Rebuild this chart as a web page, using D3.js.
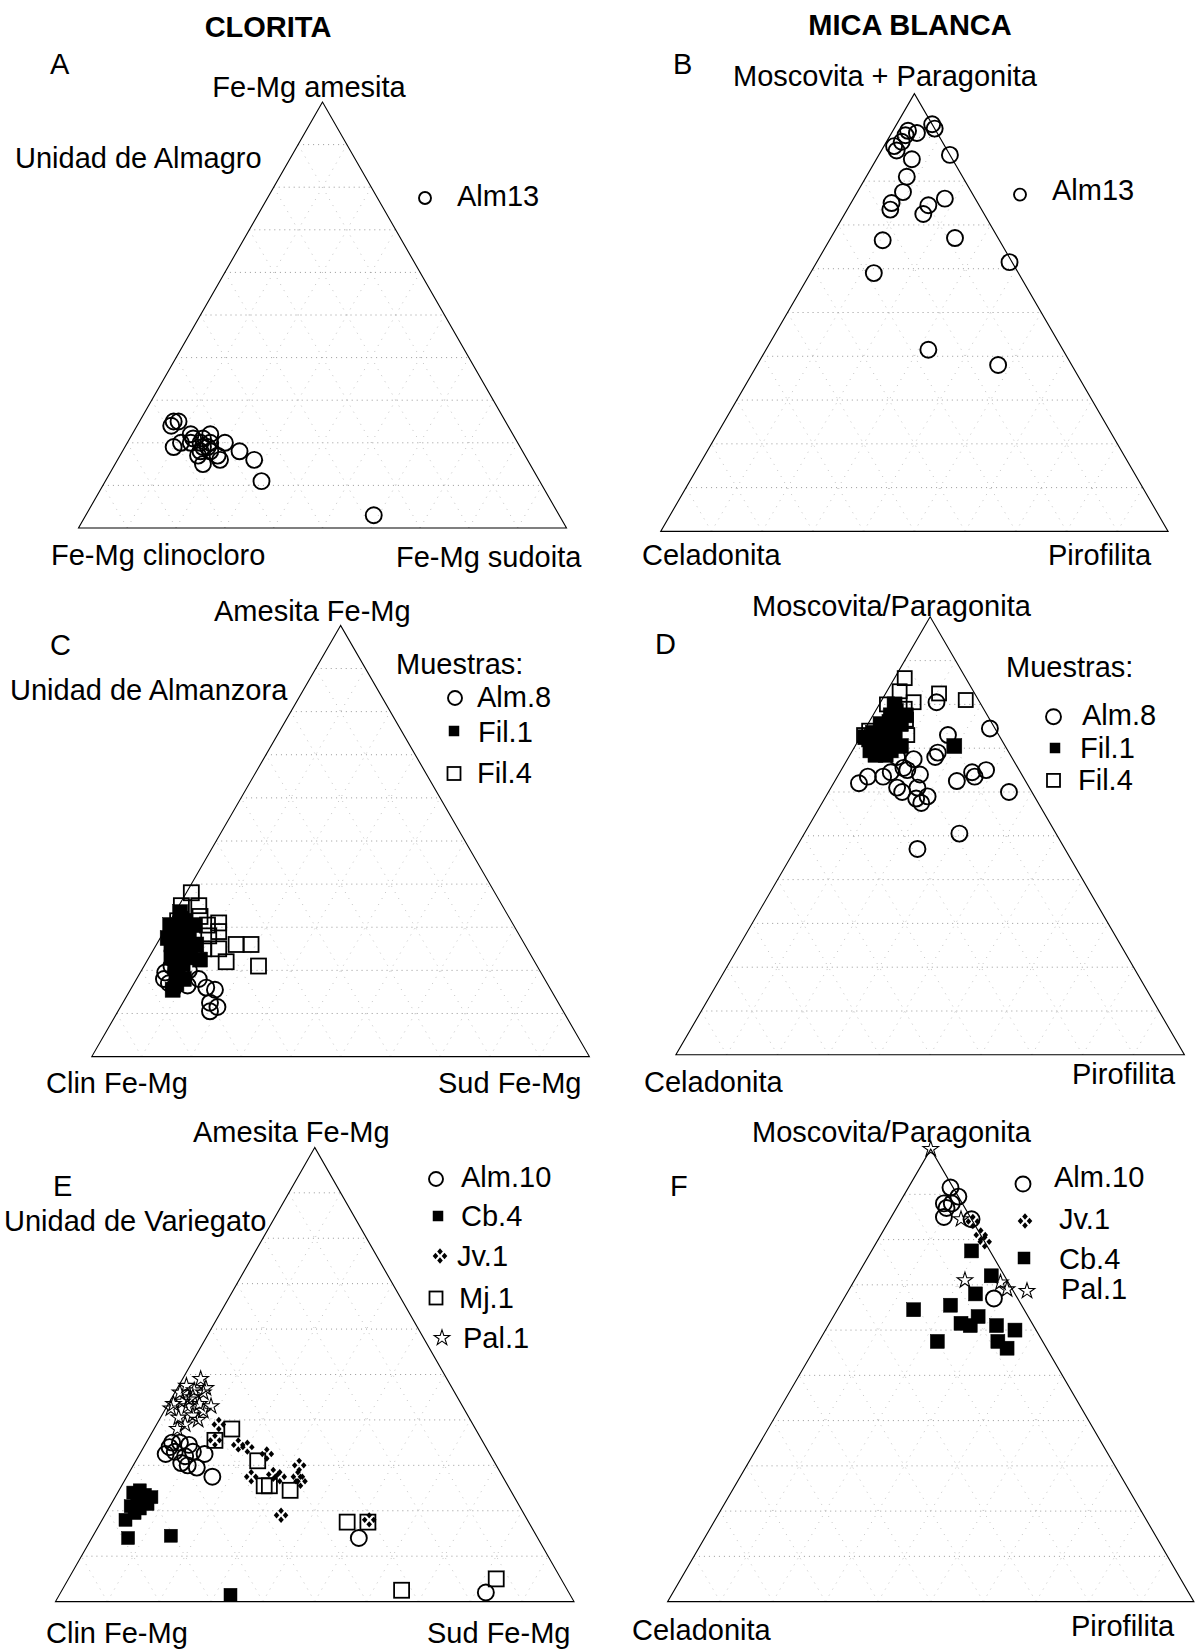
<!DOCTYPE html>
<html>
<head>
<meta charset="utf-8">
<script src="https://cdn.jsdelivr.net/npm/d3@7"></script>
<style>
  body { margin: 0; background: #fff; }
  svg text { font-family: "Liberation Sans", Arial, Helvetica, sans-serif; fill: #000; }
</style>
</head>
<body>
<svg id="chart" width="1195" height="1650"></svg>
<script>
// ternary data, every point is [top, left, right] in percent
// chlorite: [amesita, clinocloro, sudoita]   mica: [moscovita/paragonita, celadonita, pirofilita]

// A - Unidad de Almagro, clorita
const almagroChlAlm13 = [
  [25,68,7],[24,69,7],[25,67,8],[19,71,10],[20,69,11],[22,66,12],[21,66,13],[20,67,13],
  [22,62,16],[20,65,15],[19,65,16],[17,67,16],[15,67,18],[18,64,18],[16,63,21],[17,63,20],
  [20,60,20],[19,64,17],[21,64,15],[18,66,16],[20,63,17],[18,58,24],[16,56,28],[11,57,32],[3,38,59]
];

// B - Unidad de Almagro, mica blanca
const almagroMicaAlm13 = [
  [93,0,7],[92,0,8],[91.5,5.5,3],[91,4,5],[90.5,6.5,3],[89,8,3],[88,10,2],[87,10,3],
  [86,0,14],[85,8,7],[81,11,8],[77.5,13.5,9],[76,6,18],[75,17,8],[73.5,18,8.5],[74.5,10,15.5],
  [72.5,12,15.5],[66.5,23,10.5],[67,8.5,24.5],[59,28.5,12.5],[61.5,0.5,38],[41.5,26.5,32],[38,14.5,47.5]
];

// C - Unidad de Almanzora, clorita
const almanzoraChlAlm8 = [
  [19.5,75.5,5],[21,73.5,5.5],[18,76.5,5.5],[20,73,7],[18.5,72.5,9],[16,75.5,8.5],[16.5,72.5,11],
  [18,69.5,12.5],[16,69,15],[15.5,67.5,17],[12.5,70,17.5],[11.5,69,19.5],[10.5,71,18.5],
  [21.5,71.5,7],[17,76,7],[20,70.5,9.5]
];
const almanzoraChlFil1 = [
  [30.5,69,0.5],[28,69.5,2.5],[26,71,3],[29.5,67.5,3],[26.5,68,5.5],[24,71,5],[28,66.5,5.5],
  [31.5,65.5,3],[26,66,8],[33.5,65.5,1],[23,72.5,4.5],[23,69,8],[30.5,64,5.5],[27.5,71,1.5],
  [24.5,68,7.5],[20.5,73,6.5],[18,72.5,9.5],[15.5,76,8.5],[22.5,67,10.5],
  [25,70,5],[27,69,4],[29,68.5,2.5],[21.5,71,7.5],[19.5,73,7.5],[17,74.5,8.5],[32,66,2]
];
const almanzoraChlFil4 = [
  [38,61,1],[35,64.5,0.5],[32.5,62,5.5],[31,59,10],[29,60,11],[28,62.5,9.5],[25,65,10],
  [25,62,13],[26,58,16],[26,55,19],[22,62,16],[21,56,23],[31.5,67,1.5],[28,69.5,2.5],
  [24,67.5,8.5],[29.5,66.5,4],[35,61,4],[30.5,61.5,8]
];

// D - Unidad de Almanzora, mica blanca
const almanzoraMicaAlm8 = [
  [80.5,8.5,11],[74.5,1,24.5],[73,10,17],[69,14,17],[68,15,17],[68,22.5,9.5],[67.5,19.5,13],
  [65.5,22.5,12],[64.5,25.5,10],[63.5,27.5,9],[63.5,30.5,6],[62,33,5],[64,20,16],[61,26,13],
  [60,25.5,14.5],[61,22,17],[59,21,20],[58.5,23.5,18],[57.5,23,19.5],[62.5,13.5,24],
  [64.5,9.5,26],[63.5,9.5,27],[65,6.5,28.5],[60,4.5,35.5],[50.5,19,30.5],[47,29,24],[65,22,13]
];
const almanzoraMicaFil1 = [
  [72,26,2],[70.5,24.5,5],[68.5,26.5,5],[69.5,23,7.5],[73,22.5,4.5],[72,21,7],[75.5,18,6.5],
  [75.5,22,2.5],[77.5,19,3.5],[80,17,3],[77.5,16,6.5],[69.5,27,3.5],[72.5,26.5,1],
  [68.5,24.5,7],[70.5,20.5,9],[70.5,10,19.5],
  [74,22,4],[71,23.5,5.5],[73.5,24.5,2],[76,20,4],[69,25,6],[71,25.5,3.5],[74,20,6],[78.5,17.5,4]
];
const almanzoraMicaFil4 = [
  [86,12,2],[83,14.5,2.5],[80.5,13,6.5],[82.5,7,10.5],[81,2.5,16.5],[73,26.5,0.5],
  [73,18,9],[76.5,16.5,7],[80,18.5,1.5],[79,15.5,5.5],[74,25,1]
];

// E - Unidad de Variegato, clorita
const variegatoChlAlm10 = [
  [35,60,5],[35,58.5,6.5],[32.5,62.5,5],[33,60.5,6.5],[34.5,57,8.5],[33,57,10],[32.5,55,12.5],
  [30.5,60.5,9],[30,59.5,10.5],[29.5,58,12.5],[34,61,5],[32,59,9],[27.5,56,16.5],[14,34.5,51.5],[2,16,82]
];
const variegatoChlCb4 = [
  [18,77.5,4.5],[14,79,7],[14.5,70.5,15],[1.5,65.5,33],[24,73,3],[24.5,71.5,4],[23.5,71,5.5],
  [22.5,73,4.5],[21.5,71.5,7],[21,75,4],[20.5,73.5,6],[23,70,7],[19.5,75,5.5]
];
const variegatoChlJv1 = [
  [39,49,12],[35.5,51.5,13],[34.5,47.5,18],[34,46,20],[32.5,43,24.5],[27.5,48.5,24],[28,44,28],
  [27.5,43,29.5],[30,38,32],[27.5,39.5,33],[26.5,39.5,34],[19,47,34],[18,30.5,51.5]
];
const variegatoChlMj1 = [
  [38,47,15],[35.5,51.5,13],[31,45.5,23.5],[25.5,47,27.5],[25.5,46,28.5],[24.5,42.5,33],
  [17.5,35,47.5],[17.5,31,51.5],[2.5,32,65.5],[5,12.5,82.5]
];
const variegatoChlPal1 = [
  [49,47.5,3.5],[47.5,51,1.5],[47,47.5,5.5],[46,53,1],[45,51,4],[43.5,50.5,6],[43,48.5,8.5],
  [43,53,4],[42.5,56.5,1],[41,53,6],[40.5,56,3.5],[40,52.5,7.5],[39,55.5,5.5],[38,57.5,4.5],
  [44.5,52,3.5],[44,53.5,2.5],[43.5,55.5,1],[46,48.5,5.5],[42,50.5,7.5],[46.5,50,3.5]
];

// F - Unidad de Variegato, mica blanca
const variegatoMicaAlm10 = [
  [91.5,0.5,8],[89.5,0,10.5],[88,3.5,8.5],[87,3.5,9.5],[85,5,10],[88,2,10],[84.5,0,15.5],[67,4.5,28.5]
];
const variegatoMicaJv1 = [[84,0,16],[81,0,19],[79.5,0,20.5]];
const variegatoMicaCb4 = [
  [77.5,3.5,19],[72,2.5,25.5],[68,7.5,24.5],[64.5,21,14.5],[65.5,13.5,21],[63,9.5,27.5],
  [61.5,13.5,25],[61,12,27],[61,7,32],[60,4,36],[57.5,8.5,34],[56,7.5,36.5],[57.5,20,22.5]
];
const variegatoMicaPal1 = [[100,0,0],[84.5,2,13.5],[71,8,21],[70.5,1.5,28],[69,1,30]];

const gridSteps = d3.range(10, 100, 10);

const svg = d3.select('#chart');

// marker drawing, one function per symbol kind
function drawMark(g, kind, cx, cy, size) {
    if (kind === 'circle') {
        g.append('circle').attr('cx', cx).attr('cy', cy).attr('r', size)
            .attr('fill', 'none').attr('stroke', '#000').attr('stroke-width', 1.9);
    } else if (kind === 'square' || kind === 'filled') {
        g.append('rect').attr('x', cx - size / 2).attr('y', cy - size / 2)
            .attr('width', size).attr('height', size)
            .attr('fill', kind === 'filled' ? '#000' : 'none')
            .attr('stroke', '#000').attr('stroke-width', kind === 'filled' ? 0.5 : 1.8);
    } else if (kind === 'star') {
        g.append('path').attr('d', d3.symbol().type(d3.symbolStar).size(size)())
            .attr('transform', `translate(${cx},${cy})`)
            .attr('fill', 'none').attr('stroke', '#000').attr('stroke-width', 1.1);
    } else if (kind === 'jv') {
        // four small diamonds arranged in a diamond
        const off = size;
        [[0, -off], [off, 0], [0, off], [-off, 0]].forEach(([dx, dy]) => {
            g.append('path').attr('d', 'M0,-3.2L2.8,0L0,3.2L-2.8,0Z')
                .attr('transform', `translate(${cx + dx},${cy + dy})`)
                .attr('fill', '#000');
        });
    }
}

function addText(g, t, x, y, opts = {}) {
    g.append('text')
        .attr('x', x).attr('y', y).attr('dy', '0.35em')
        .attr('text-anchor', opts.anchor || 'start')
        .style('font-size', (opts.size || 29) + 'px')
        .style('font-weight', opts.bold ? 'bold' : 'normal')
        .text(t);
}

const panels = [
    { left: 78.5, right: 566.5, base: 528, apex: 102,
      series: [{ data: almagroChlAlm13, kind: 'circle', size: 8 }],
      labels: [['A', 50, 64], ['Fe-Mg amesita', 309, 87, 'middle'], ['Unidad de Almagro', 15, 158],
               ['Alm13', 457, 196], ['Fe-Mg clinocloro', 51, 555], ['Fe-Mg sudoita', 396, 557]],
      legend: [['circle', 425, 198, 6]] },
    { left: 660.7, right: 1168.1, base: 531.4, apex: 93.6,
      series: [{ data: almagroMicaAlm13, kind: 'circle', size: 8 }],
      labels: [['B', 673, 64], ['Moscovita + Paragonita', 733, 76], ['Alm13', 1052, 190],
               ['Celadonita', 642, 555], ['Pirofilita', 1048, 555]],
      legend: [['circle', 1020, 194.6, 6]] },
    { left: 91.8, right: 589.4, base: 1056.6, apex: 625.4,
      series: [{ data: almanzoraChlFil1, kind: 'filled', size: 15 },
               { data: almanzoraChlFil4, kind: 'square', size: 15 },
               { data: almanzoraChlAlm8, kind: 'circle', size: 8 }],
      labels: [['C', 50, 645], ['Amesita Fe-Mg', 214, 611], ['Muestras:', 396, 664],
               ['Unidad de Almanzora', 10, 690], ['Alm.8', 477, 697], ['Fil.1', 478, 732],
               ['Fil.4', 477, 773], ['Clin Fe-Mg', 46, 1083], ['Sud Fe-Mg', 438, 1083]],
      legend: [['circle', 455, 698, 7], ['filled', 454, 731, 10], ['square', 454, 773.5, 13]] },
    { left: 675.9, right: 1184.4, base: 1054.8, apex: 616.8,
      series: [{ data: almanzoraMicaFil1, kind: 'filled', size: 15 },
               { data: almanzoraMicaFil4, kind: 'square', size: 14 },
               { data: almanzoraMicaAlm8, kind: 'circle', size: 8 }],
      labels: [['D', 655, 644], ['Moscovita/Paragonita', 752, 606], ['Muestras:', 1006, 667],
               ['Alm.8', 1082, 715], ['Fil.1', 1080, 748], ['Fil.4', 1078, 780],
               ['Celadonita', 644, 1082], ['Pirofilita', 1072, 1074]],
      legend: [['circle', 1053.5, 716.7, 7.5], ['filled', 1055, 748, 10], ['square', 1053.5, 780.4, 13]] },
    { left: 55.5, right: 574, base: 1601.6, apex: 1147.4,
      series: [{ data: variegatoChlCb4, kind: 'filled', size: 13 },
               { data: variegatoChlPal1, kind: 'star', size: 75 },
               { data: variegatoChlAlm10, kind: 'circle', size: 8 },
               { data: variegatoChlMj1, kind: 'square', size: 15 },
               { data: variegatoChlJv1, kind: 'jv', size: 4.5 }],
      labels: [['E', 53, 1186], ['Amesita Fe-Mg', 193, 1132], ['Unidad de Variegato', 4, 1221],
               ['Alm.10', 461, 1177], ['Cb.4', 461, 1216], ['Jv.1', 457, 1256],
               ['Mj.1', 459, 1298], ['Pal.1', 463, 1338],
               ['Clin Fe-Mg', 46, 1633], ['Sud Fe-Mg', 427, 1633]],
      legend: [['circle', 436, 1179, 7], ['filled', 438, 1216, 10], ['jv', 440, 1256, 4.5],
               ['square', 436, 1298, 13], ['star', 442, 1338, 75]] },
    { left: 667.6, right: 1193.9, base: 1601.6, apex: 1149.1,
      series: [{ data: variegatoMicaCb4, kind: 'filled', size: 14 },
               { data: variegatoMicaAlm10, kind: 'circle', size: 8 },
               { data: variegatoMicaJv1, kind: 'jv', size: 4.5 },
               { data: variegatoMicaPal1, kind: 'star', size: 75 }],
      labels: [['F', 670, 1186], ['Moscovita/Paragonita', 752, 1132],
               ['Alm.10', 1054, 1177], ['Jv.1', 1059, 1219], ['Cb.4', 1059, 1259], ['Pal.1', 1061, 1289],
               ['Celadonita', 632, 1630], ['Pirofilita', 1071, 1626]],
      legend: [['circle', 1023, 1184, 7.5], ['jv', 1025, 1221, 4.5], ['filled', 1024, 1258, 12],
               ['star', 1027, 1291, 75]] }
];

function drawPanel(p) {
    const g = svg.append('g');
    const x = d3.scaleLinear().domain([0, 100]).range([p.left, p.right]);
    const y = d3.scaleLinear().domain([0, 100]).range([p.base, p.apex]);
    // ternary -> screen, d = [top, left, right]
    const px = d => x(d[2] + d[0] / 2);
    const py = d => y(d[0]);
    const seg = (a, b) => g.append('line')
        .attr('x1', px(a)).attr('y1', py(a)).attr('x2', px(b)).attr('y2', py(b));

    // dotted grid
    gridSteps.forEach(k => {
        seg([k, 100 - k, 0], [k, 0, 100 - k])
            .attr('stroke', '#999').attr('stroke-width', 1).attr('stroke-dasharray', '1,4');
        seg([0, 100 - k, k], [100 - k, 0, k])
            .attr('stroke', '#c4c4c4').attr('stroke-width', 1).attr('stroke-dasharray', '1,6');
        seg([0, k, 100 - k], [100 - k, k, 0])
            .attr('stroke', '#c4c4c4').attr('stroke-width', 1).attr('stroke-dasharray', '1,6');
    });

    // triangle frame
    const corners = [[100, 0, 0], [0, 100, 0], [0, 0, 100]];
    g.append('path')
        .attr('d', d3.line()(corners.map(d => [px(d), py(d)])) + 'Z')
        .attr('fill', 'none').attr('stroke', '#000').attr('stroke-width', 1.1);

    p.series.forEach(s => {
        s.data.forEach(d => drawMark(g, s.kind, px(d), py(d), s.size));
    });

    p.legend.forEach(([kind, lx, ly, size]) => drawMark(g, kind, lx, ly, size));
    p.labels.forEach(([t, lx, ly, anchor]) => addText(g, t, lx, ly, { anchor }));
}

addText(svg, 'CLORITA', 268, 27, { anchor: 'middle', bold: true });
addText(svg, 'MICA BLANCA', 910, 25, { anchor: 'middle', bold: true });

panels.forEach(drawPanel);
</script>
</body>
</html>
